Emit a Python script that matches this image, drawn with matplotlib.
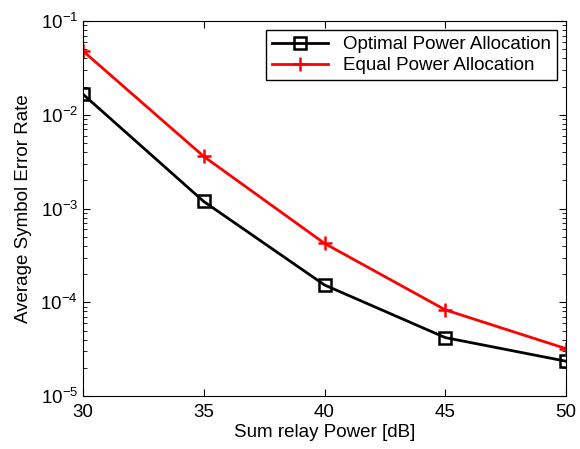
import matplotlib.pyplot as plt
import numpy as np

plt.rcParams['font.family'] = ['Liberation Sans', 'DejaVu Sans']
plt.rcParams['mathtext.default'] = 'regular'

# Data
power_db = [30, 35, 40, 45, 50]
ser_optimal = [1.66e-2, 1.19e-3, 1.53e-4, 4.2e-5, 2.35e-5]
ser_equal = [4.8e-2, 3.6e-3, 4.25e-4, 8.3e-5, 3.2e-5]

fig = plt.figure(figsize=(5.8, 4.49), dpi=100)
ax = fig.add_axes([0.143, 0.118, 0.833, 0.835])

ax.semilogy(power_db, ser_optimal, color='black', lw=2, marker='s', ms=8,
            mfc='none', mew=1.8, label='Optimal Power Allocation')
ax.semilogy(power_db, ser_equal, color='red', lw=2, marker='+', ms=10,
            mew=1.8, label='Equal Power Allocation')

ax.set_xlim(30, 50)
ax.set_ylim(1e-5, 1e-1)
ax.set_xticks([30, 35, 40, 45, 50])
ax.tick_params(axis='both', which='both', direction='in', top=True, right=True, labelsize=13.5)
ax.tick_params(axis='both', which='major', length=5)
ax.tick_params(axis='y', which='minor', length=3)
ax.tick_params(axis='x', which='major', pad=6)

ax.set_xlabel('Sum relay Power [dB]', fontsize=13.5, labelpad=2)
ax.set_ylabel('Average Symbol Error Rate', fontsize=13.5, labelpad=6)

leg = ax.legend(loc='upper right', fontsize=13.5, fancybox=False, framealpha=1,
                edgecolor='black', handlelength=3, borderaxespad=0.5,
                labelspacing=0.2, borderpad=0.3)
leg.get_frame().set_linewidth(1)

fig.savefig('out.png', dpi=100)
